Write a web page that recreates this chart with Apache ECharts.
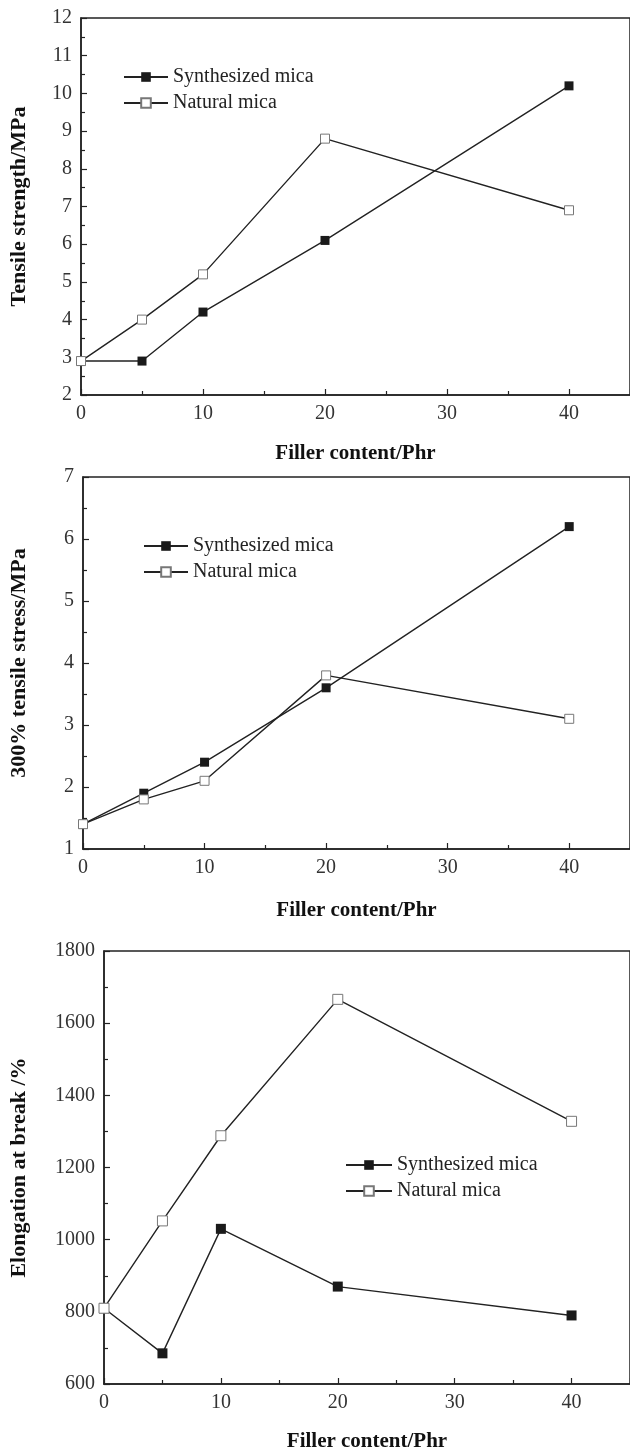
<!DOCTYPE html>
<html>
<head>
<meta charset="utf-8">
<script src="https://cdn.jsdelivr.net/npm/echarts@6/dist/echarts.min.js"></script>
<style>
    html, body { margin: 0; padding: 0; background: #fff; }
    #main { width: 630px; height: 1453px; }
</style>
</head>
<body>
<div id="main"></div>
<script>
// filler content (phr) shared by all three panels
const fillerContent = [0, 5, 10, 20, 40];

// panel 1: tensile strength, MPa
const tensileSynth = [2.9, 2.9, 4.2, 6.1, 10.2];
const tensileNatural = [2.9, 4.0, 5.2, 8.8, 6.9];

// panel 2: 300% tensile stress, MPa
const stressSynth = [1.4, 1.9, 2.4, 3.6, 6.2];
const stressNatural = [1.4, 1.8, 2.1, 3.8, 3.1];

// panel 3: elongation at break, %
const elongSynth = [810, 685, 1030, 870, 790];
const elongNatural = [810, 1052, 1288, 1666, 1328];

const seriesNames = ["Synthesized mica", "Natural mica"];
const yNames = ["Tensile strength/MPa", "300% tensile stress/MPa", "Elongation at break /%"];
const xName = "Filler content/Phr";

const serif = "Liberation Serif";
const chart = echarts.init(document.getElementById("main"), null, { renderer: "canvas" });

function pairs(ys) {
    return fillerContent.map((x, i) => [x, ys[i]]);
}

// grid boxes
const grids = [
    { left: 73, top: 18, width: 561, height: 377 },
    { left: 75, top: 477, width: 558, height: 372 },
    { left: 97, top: 951, width: 535, height: 433 }
];
const yRanges = [[2, 12, 1], [1, 7, 1], [600, 1800, 200]];
const yNameGaps = [51, 53, 74];
const xNameGaps = [48, 51, 47];
const legendPos = [
    { left: 118, top: 62, itemWidth: 44 },
    { left: 138, top: 531, itemWidth: 44 },
    { left: 340, top: 1150, itemWidth: 46 }
];
const panelData = [
    [tensileSynth, tensileNatural],
    [stressSynth, stressNatural],
    [elongSynth, elongNatural]
];

const axisLine = { show: true, lineStyle: { color: "#222", width: 1.5 } };

let option = {
    backgroundColor: "#fff",
    animation: false,
    grid: grids.map(g => Object.assign({ show: true, borderColor: "#222", borderWidth: 1.5, backgroundColor: "transparent" }, g)),
    xAxis: grids.map((g, i) => ({
        type: "value", gridIndex: i, min: 0, max: 45, interval: 10,
        name: xName, nameLocation: "middle", nameGap: xNameGaps[i],
        nameTextStyle: { fontFamily: serif, fontWeight: "bold", fontSize: 21, color: "#111" },
        axisLine: axisLine,
        axisTick: { inside: true, length: 6, lineStyle: { color: "#222", width: 1.2 } },
        minorTick: { show: true, splitNumber: 2, length: 4, lineStyle: { color: "#222", width: 1.2 } },
        axisLabel: { fontFamily: serif, fontSize: 20, color: "#333", margin: 9, showMaxLabel: false },
        splitLine: { show: false }
    })),
    yAxis: grids.map((g, i) => ({
        type: "value", gridIndex: i, min: yRanges[i][0], max: yRanges[i][1], interval: yRanges[i][2],
        name: yNames[i], nameLocation: "middle", nameGap: yNameGaps[i],
        nameTextStyle: { fontFamily: serif, fontWeight: "bold", fontSize: 22, color: "#111" },
        axisLine: axisLine,
        axisTick: { inside: true, length: 6, lineStyle: { color: "#222", width: 1.2 } },
        minorTick: { show: true, splitNumber: 2, length: 4, lineStyle: { color: "#222", width: 1.2 } },
        axisLabel: { fontFamily: serif, fontSize: 20, color: "#333", margin: 9, formatter: v => String(v) },
        splitLine: { show: false }
    })),
    legend: legendPos.map((p, i) => ({
        orient: "vertical", left: p.left, top: p.top,
        itemWidth: p.itemWidth, itemHeight: 12, itemGap: 6,
        textStyle: { fontFamily: serif, fontSize: 20, color: "#222", lineHeight: 20 },
        data: [
            { name: seriesNames[0] + (i ? "\u200b".repeat(i) : "") },
            { name: seriesNames[1] + (i ? "\u200b".repeat(i) : "") }
        ]
    })),
    series: []
};

// two series per panel, natural drawn last so its open squares sit on top
panelData.forEach((pd, i) => {
    let suffix = i ? "\u200b".repeat(i) : "";
    option.series.push({
        name: seriesNames[0] + suffix, type: "line", xAxisIndex: i, yAxisIndex: i,
        data: pairs(pd[0]), symbol: "rect", symbolSize: i === 2 ? 10 : 9,
        lineStyle: { color: "#222", width: 1.4 },
        itemStyle: { color: "#1a1a1a", borderColor: "#1a1a1a", borderWidth: 0 }
    });
    option.series.push({
        name: seriesNames[1] + suffix, type: "line", xAxisIndex: i, yAxisIndex: i,
        data: pairs(pd[1]), symbol: "rect", symbolSize: i === 2 ? 10 : 9,
        lineStyle: { color: "#222", width: 1.4 },
        itemStyle: { color: "#fff", borderColor: "#777", borderWidth: 1 }
    });
});

chart.setOption(option);
</script>
</body>
</html>
